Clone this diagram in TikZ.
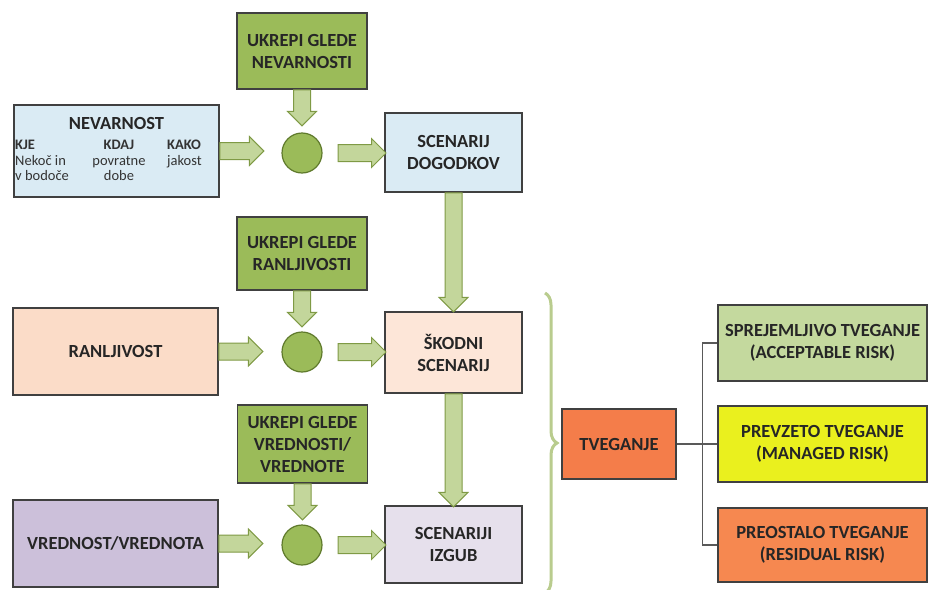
\documentclass[tikz,border=0pt]{standalone}
\usepackage{fontspec}
\setmainfont{Carlito}
\usetikzlibrary{positioning,shapes.arrows,decorations.pathreplacing}

\definecolor{ukgreen}{HTML}{9BBB59}
\definecolor{argreen}{HTML}{C3D69B}
\definecolor{arline}{HTML}{7F9A45}
\definecolor{circline}{HTML}{5F7A2C}
\definecolor{boxline}{HTML}{404040}
\definecolor{nevblue}{HTML}{DAEBF4}
\definecolor{ranpeach}{HTML}{FBDCC8}
\definecolor{skpeach}{HTML}{FDE6D8}
\definecolor{vrlilac}{HTML}{CCC0DA}
\definecolor{sililac}{HTML}{E6E0EC}
\definecolor{tvorange}{HTML}{F47D4A}
\definecolor{spgreen}{HTML}{C4D99E}
\definecolor{pryellow}{HTML}{EAF01E}
\definecolor{poorange}{HTML}{F68850}
\definecolor{bracegreen}{HTML}{B9CC8E}

\begin{document}
\begin{tikzpicture}
	[x=1pt,y=-1pt,
	box/.style={draw=boxline,line width=1.6pt,inner sep=0pt,align=center,
		font=\fontsize{18.5}{22}\selectfont\bfseries,text=black!85},
	ukrep/.style={box,fill=ukgreen,minimum width=130pt},
	sub text/.style={inner sep=0pt,font=\fontsize{14.5}{15.5}\selectfont,text=black!80},
	dot/.style={circle,draw=circline,line width=1.2pt,fill=ukgreen,minimum size=40pt,inner sep=0pt},
	block arrow/.style={single arrow,draw=arline,fill=argreen,line width=1pt,inner sep=0pt,outer sep=0pt,
		text height=8pt,text depth=8pt,single arrow head extend=6pt,anchor=tail},
	down arrow/.style={block arrow,shape border rotate=270,text height=0pt,text depth=0pt,text width=16pt},
	tree/.style={draw=black!65,line width=1.3pt}]
	\useasboundingbox (0,0) rectangle (928,589);

	\node [ukrep,minimum height=76pt] (uk1) at (302,51) {UKREPI GLEDE\\NEVARNOSTI};
	\node [ukrep,minimum height=73pt] (uk2) at (302,253.5) {UKREPI GLEDE\\RANLJIVOSTI};
	\node [ukrep,minimum height=78pt] (uk3) at (302.5,444) {UKREPI GLEDE\\VREDNOSTI/\\VREDNOTE};

	\node [box,fill=nevblue,minimum width=205pt,minimum height=92pt] (nev) at (116.5,151) {};
	\node [box,draw=none] (nevt) at (116.5,123) {NEVARNOST};
	\node [sub text,anchor=north west,align=left] (kje) at (15,140) {\textbf{KJE}\\Nekoč in\\v bodoče};
	\node [sub text,anchor=north,align=center] (kdaj) at (119,140) {\textbf{KDAJ}\\povratne\\dobe};
	\node [sub text,anchor=north west,align=left] (kako) at (167,140) {\textbf{KAKO}\\jakost};
	\node [box,fill=ranpeach,minimum width=205pt,minimum height=87pt] (ran) at (115.5,351.5) {RANLJIVOST};
	\node [box,fill=vrlilac,minimum width=205pt,minimum height=87pt] (vr) at (115.5,543.5) {VREDNOST/VREDNOTA};

	\node [dot] (c1) at (302,153) {};
	\node [dot] (c2) at (302,352) {};
	\node [dot] (c3) at (302,545) {};

	\node [box,fill=nevblue,minimum width=137pt,minimum height=79pt] (sd) at (453.5,152.5) {SCENARIJ\\DOGODKOV};
	\node [box,fill=skpeach,minimum width=137pt,minimum height=81pt] (sk) at (453.5,352.5) {ŠKODNI\\SCENARIJ};
	\node [box,fill=sililac,minimum width=137pt,minimum height=77pt] (si) at (453.5,544.5) {SCENARIJI\\IZGUB};

	\node [box,fill=tvorange,minimum width=114pt,minimum height=70pt] (tv) at (619,444) {TVEGANJE};
	\node [box,fill=spgreen,minimum width=209pt,minimum height=76pt] (sp) at (822.5,343) {SPREJEMLJIVO TVEGANJE\\(ACCEPTABLE RISK)};
	\node [box,fill=pryellow,minimum width=209pt,minimum height=76pt] (pr) at (822.5,444) {PREVZETO TVEGANJE\\(MANAGED RISK)};
	\node [box,fill=poorange,minimum width=209pt,minimum height=74pt] (po) at (822.5,545) {PREOSTALO TVEGANJE\\(RESIDUAL RISK)};

	\node [block arrow,minimum height=44pt] (a1) at (nev.east) {};
	\node [block arrow,minimum height=44pt] (a2) at (ran.east) {};
	\node [block arrow,minimum height=44pt] (a3) at (vr.east) {};
	\node [block arrow,minimum height=48pt] (b1) at (338,153) {};
	\node [block arrow,minimum height=48pt] (b2) at (338,352) {};
	\node [block arrow,minimum height=48pt] (b3) at (338,545) {};
	\node [down arrow,minimum height=36pt] (d1) at (uk1.south) {};
	\node [down arrow,minimum height=36pt] (d2) at (uk2.south) {};
	\node [down arrow,minimum height=36pt] (d3) at (uk3.south) {};
	\node [down arrow,minimum height=119pt] (e1) at (sd.south) {};
	\node [down arrow,minimum height=113pt] (e2) at (sk.south) {};

	\draw [bracegreen,line width=3pt,decorate,decoration={brace,amplitude=12pt}]
		(545,293) coordinate (bt) -- (545,593) coordinate (bb);

	\path [tree] (tv) -- (pr);
	\path [tree] (sp.west) -- ++(-15,0) |- (po.west);

	\end{tikzpicture}
\end{document}
